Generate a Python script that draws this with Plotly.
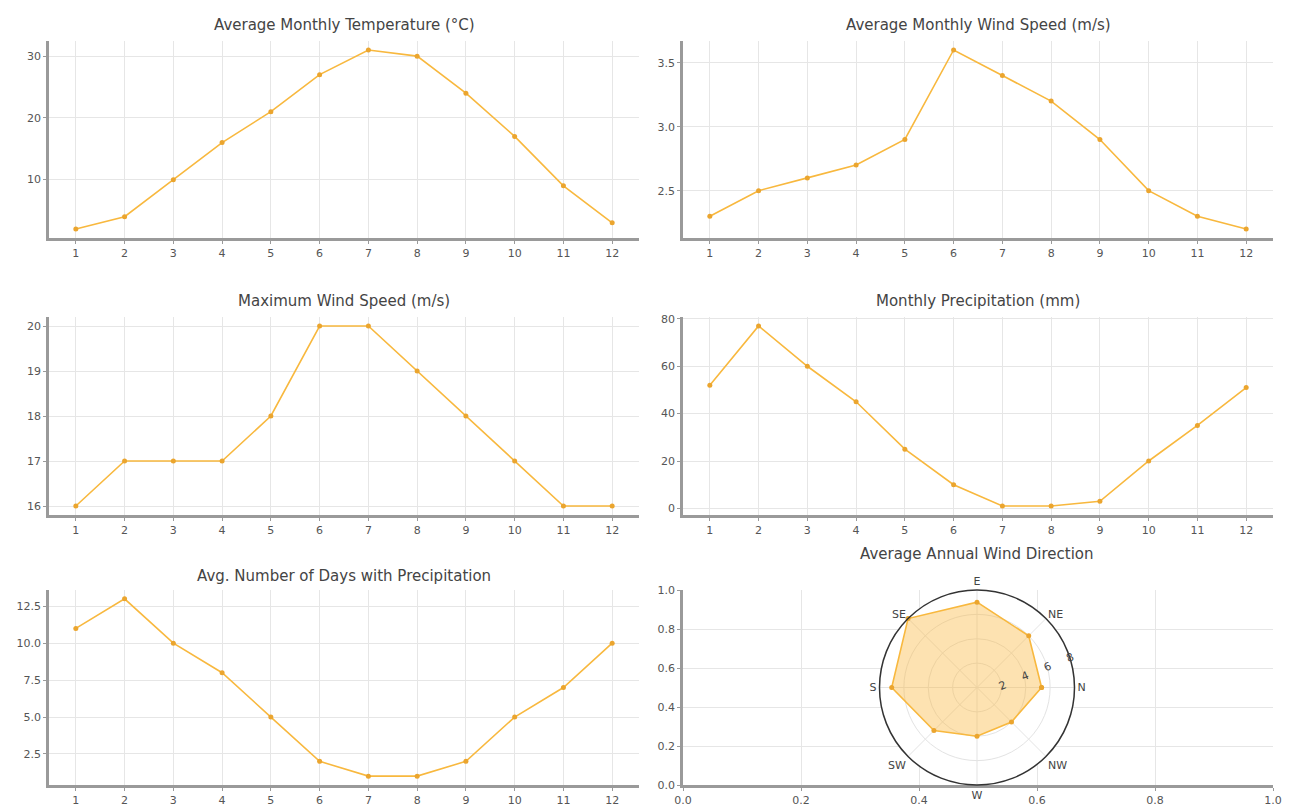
import plotly.graph_objects as go

months = list(range(1, 13))
temperature = [2, 4, 10, 16, 21, 27, 31, 30, 24, 17, 9, 3]
avg_wind = [2.3, 2.5, 2.6, 2.7, 2.9, 3.6, 3.4, 3.2, 2.9, 2.5, 2.3, 2.2]
max_wind = [16, 17, 17, 17, 18, 20, 20, 19, 18, 17, 16, 16]
precip = [52, 77, 60, 45, 25, 10, 1, 1, 3, 20, 35, 51]
precip_days = [11, 13, 10, 8, 5, 2, 1, 1, 2, 5, 7, 10]

directions = ["N", "NE", "E", "SE", "S", "SW", "W", "NW"]
dir_angles = [0, 45, 90, 135, 180, 225, 270, 315]
dir_values = [5.3, 6, 7, 8, 7, 5, 4, 4]

titles = [
    "Average Monthly Temperature (°C)",
    "Average Monthly Wind Speed (m/s)",
    "Maximum Wind Speed (m/s)",
    "Monthly Precipitation (mm)",
    "Avg. Number of Days with Precipitation",
    "Average Annual Wind Direction",
]

# y tick settings per panel
y_ticks = [
    dict(dtick=10, tick0=0, tickformat="d"),
    dict(dtick=0.5, tick0=0, tickformat=".1f"),
    dict(dtick=1, tick0=0, tickformat="d"),
    dict(dtick=20, tick0=0, tickformat="d"),
    dict(dtick=2.5, tick0=0, tickformat=".1f"),
]

W, H = 1289, 809
LINE = "#F8B83E"
MARK = "#EBA52E"
FONT = "DejaVu Sans"

def px_x(a, b):
    return [a / W, b / W]

def px_y(top, bottom):
    return [1 - bottom / H, 1 - top / H]

cols = [px_x(49, 639), px_x(683, 1273)]
rows = [px_y(41, 238), px_y(317, 515), px_y(590, 785)]

series = [temperature, avg_wind, max_wind, precip, precip_days]

fig = go.Figure()

axis_common = dict(
    showline=True, linecolor="#9a9a9a", linewidth=2.5,
    showgrid=True, gridcolor="#e6e6e6", gridwidth=1,
    ticks="outside", ticklen=3, tickcolor="#9a9a9a", tickwidth=1,
    tickfont=dict(family=FONT, size=11, color="#555555"),
    zeroline=False, mirror=False, automargin=False,
)

for i, ys in enumerate(series):
    n = i + 1
    r, c = divmod(i, 2)
    xa = "x" if n == 1 else f"x{n}"
    ya = "y" if n == 1 else f"y{n}"
    fig.add_trace(go.Scatter(
        x=months, y=ys, mode="lines+markers", xaxis=xa, yaxis=ya,
        line=dict(color=LINE, width=1.6),
        marker=dict(color=MARK, size=5),
        showlegend=False, hoverinfo="x+y",
    ))
    ymin, ymax = min(ys), max(ys)
    span = ymax - ymin
    fig.layout[f"xaxis{'' if n == 1 else n}"] = dict(
        axis_common, domain=cols[c], anchor=ya,
        range=[1 - 0.55, 12 + 0.55], tickmode="array", tickvals=months,
    )
    fig.layout[f"yaxis{'' if n == 1 else n}"] = dict(
        axis_common, domain=rows[r], anchor=xa,
        range=[ymin - 0.05 * span, ymax + 0.05 * span],
        tickmode="linear", **y_ticks[i],
    )

# sixth cartesian axes (empty background under polar)
fig.add_trace(go.Scatter(x=[None], y=[None], xaxis="x6", yaxis="y6",
                         showlegend=False, hoverinfo="skip"))
fig.layout["xaxis6"] = dict(axis_common, domain=cols[1], anchor="y6", range=[0, 1],
                            tickmode="array", tickvals=[0, 0.2, 0.4, 0.6, 0.8, 1.0],
                            tickformat=".1f")
fig.layout["yaxis6"] = dict(axis_common, domain=rows[2], anchor="x6", range=[0, 1],
                            tickmode="array", tickvals=[0, 0.2, 0.4, 0.6, 0.8, 1.0],
                            tickformat=".1f")

# polar wind direction
fig.add_trace(go.Scatterpolar(
    r=dir_values + [dir_values[0]],
    theta=dir_angles + [dir_angles[0]],
    mode="lines+markers", fill="toself",
    fillcolor="rgba(250,185,70,0.42)",
    line=dict(color=LINE, width=1.6),
    marker=dict(color=MARK, size=5),
    showlegend=False, subplot="polar",
))
fig.layout["polar"] = dict(
    domain=dict(x=px_x(879, 1075), y=px_y(590, 785)),
    bgcolor="white",
    angularaxis=dict(
        rotation=0, direction="counterclockwise",
        tickmode="array", tickvals=dir_angles, ticktext=directions,
        showline=True, linecolor="#333333", linewidth=1.5,
        gridcolor="#e3e3e3", ticks="",
        tickfont=dict(family=FONT, size=11, color="#444444"),
    ),
    radialaxis=dict(
        range=[0, 8], tickmode="array", tickvals=[2, 4, 6, 8],
        angle=22.5, tickangle=0, showline=False, ticks="",
        gridcolor="#e3e3e3",
        tickfont=dict(family=FONT, size=11, color="#444444"),
    ),
)

title_pos = [(344, 25), (978, 25), (344, 301), (978, 301), (344, 576), (977, 554)]
for t, (x, y) in zip(titles, title_pos):
    fig.add_annotation(text=t, x=x / W, y=1 - y / H,
                       xref="paper", yref="paper",
                       xanchor="center", yanchor="middle", showarrow=False,
                       font=dict(family=FONT, size=15, color="#444444"))

fig.update_layout(
    width=W, height=H, margin=dict(l=0, r=0, t=0, b=0, autoexpand=False),
    paper_bgcolor="white", plot_bgcolor="white",
    font=dict(family=FONT),
)

fig.write_html(
    "out.html",
    config={"displayModeBar": False},
    post_script="document.body.style.margin='0';document.body.style.overflow='hidden';",
)
